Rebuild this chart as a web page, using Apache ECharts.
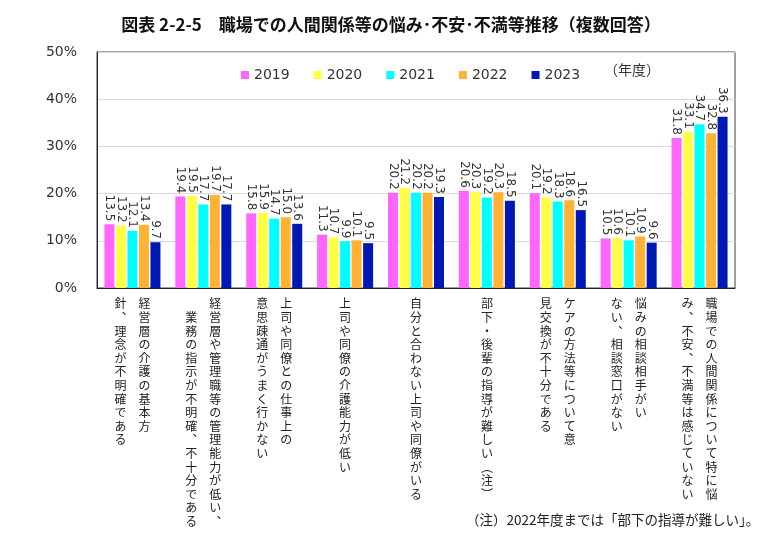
<!DOCTYPE html>
<html><head><meta charset="utf-8">
<script src="https://cdn.jsdelivr.net/npm/echarts@6/dist/echarts.min.js"></script>
<style>html,body{margin:0;padding:0;background:#fff}#c{width:782px;height:541px}</style>
</head><body><div id="c"></div>
<script>
// Category labels: [first (right) column, second (left) column]
const categories = [
  ['経営層の介護の基本方', '針、理念が不明確である'],
  ['経営層や管理職等の管理能力が低い、', '　業務の指示が不明確、不十分である'],
  ['上司や同僚との仕事上の', '意思疎通がうまく行かない'],
  ['上司や同僚の介護能力が低い', ''],
  ['自分と合わない上司や同僚がいる', ''],
  ['部下・後輩の指導が難しい（注）', ''],
  ['ケアの方法等について意', '見交換が不十分である'],
  ['悩みの相談相手がい', 'ない、相談窓口がない'],
  ['職場での人間関係について特に悩', 'み、不安、不満等は感じていない']
];
const seriesNames = ['2019', '2020', '2021', '2022', '2023'];
const v2019 = [13.5, 19.4, 15.8, 11.3, 20.2, 20.6, 20.1, 10.5, 31.8];
const v2020 = [13.2, 19.5, 15.9, 10.7, 21.2, 20.3, 19.2, 10.6, 33.1];
const v2021 = [12.1, 17.7, 14.7, 9.9, 20.2, 19.2, 18.3, 10.1, 34.7];
const v2022 = [13.4, 19.7, 15.0, 10.1, 20.2, 20.3, 18.6, 10.9, 32.8];
const v2023 = [9.7, 17.7, 13.6, 9.5, 19.3, 18.5, 16.5, 9.6, 36.3];
const yTicks = [0, 10, 20, 30, 40, 50];
const title = '図表 2-2-5　職場での人間関係等の悩み･不安･不満等推移（複数回答）';
const note = '（注）2022年度までは「部下の指導が難しい」。';
const unitLabel = '（年度）';

const colors = ['#FF66FF', '#FFFF44', '#00FFFF', '#FFB233', '#0019B5'];
const allValues = [v2019, v2020, v2021, v2022, v2023];

// vertical presentation forms for punctuation in stacked (tategaki) text
const vmap = {'、': '︑', '（': '︵', '）': '︶'};
function vchars(s) { return Array.from(s).map(ch => vmap[ch] || ch); }

function verticalLabel(idx) {
  const right = vchars(categories[idx][0]);
  const left = vchars(categories[idx][1]);
  const n = Math.max(right.length, left.length);
  const lines = [];
  for (let i = 0; i < n; i++) {
    if (left.length === 0) {
      lines.push(right[i] || '　');
    } else {
      lines.push((left[i] || '　') + '　' + (right[i] || '　'));
    }
  }
  return lines.join('\n');
}

const chart = echarts.init(document.getElementById('c'));
chart.setOption({
  backgroundColor: '#fff',
  animation: false,
  title: {
    text: title, left: 'center', top: 11,
    textStyle: {fontFamily: 'Noto Sans CJK JP', fontSize: 17, fontWeight: 'bold', color: '#111'}
  },
  legend: {
    data: seriesNames, left: 236, top: 63,
    icon: 'rect', itemWidth: 8, itemHeight: 8, itemGap: 24,
    textStyle: {fontFamily: 'DejaVu Sans', fontSize: 14, color: '#333'}
  },
  graphic: [
    {type: 'text', left: 604, top: 63, style: {text: unitLabel, font: '14px "Noto Sans CJK JP"', fill: '#333'}},
    {type: 'text', left: 466, top: 513, style: {text: note, font: '13.5px "Noto Sans CJK JP"', fill: '#222'}}
  ],
  grid: {left: 97, right: 47, top: 52, bottom: 253, show: true, borderColor: '#404040', borderWidth: 1},
  xAxis: {
    type: 'category', data: categories.map((c, i) => i),
    axisLine: {lineStyle: {color: '#222'}},
    axisTick: {show: false},
    axisLabel: {
      interval: 0, margin: 9,
      formatter: (v, i) => verticalLabel(i),
      fontFamily: 'Noto Sans CJK JP', fontSize: 12, lineHeight: 13.6, color: '#222'
    }
  },
  yAxis: {
    type: 'value', min: yTicks[0], max: yTicks[yTicks.length - 1], interval: 10,
    axisLine: {show: true, lineStyle: {color: '#222'}},
    axisTick: {show: false},
    splitLine: {lineStyle: {color: '#d9d9d9'}},
    axisLabel: {formatter: '{value}%', fontFamily: 'DejaVu Sans', fontSize: 14, color: '#333', margin: 20}
  },
  series: seriesNames.map((name, s) => ({
    name: name, type: 'bar', data: allValues[s],
    barWidth: 10, barGap: '15%',
    itemStyle: {color: colors[s]},
    label: {
      show: true, position: 'top', rotate: -90, align: 'right', verticalAlign: 'middle',
      distance: 3, formatter: p => p.value.toFixed(1),
      fontFamily: 'DejaVu Sans', fontSize: 12, color: '#333'
    }
  }))
});
</script></body></html>
